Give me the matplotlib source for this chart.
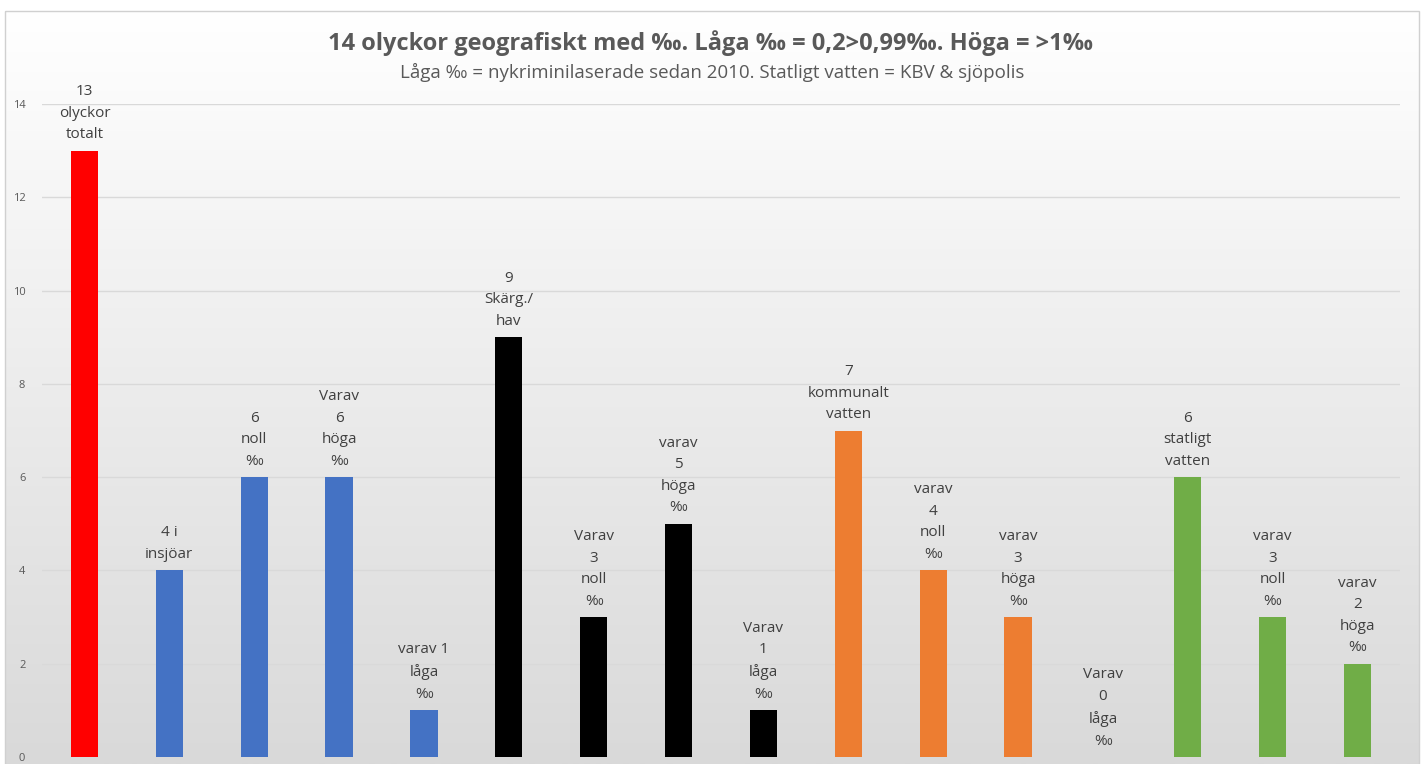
import numpy as np
import matplotlib.pyplot as plt
from matplotlib.patches import Rectangle

plt.rcParams['font.family'] = ['Open Sans', 'DejaVu Sans']

# antal olyckor per kategori
values = [13, 4, 6, 6, 1, 9, 3, 5, 1, 7, 4, 3, 0, 6, 3, 2]
labels = [
    "13\nolyckor\ntotalt",
    "4 i\ninsjöar",
    "6\nnoll\n‰",
    "Varav\n6\nhöga\n‰",
    "varav 1\nlåga\n‰",
    "9\nSkärg./\nhav",
    "Varav\n3\nnoll\n‰",
    "varav\n5\nhöga\n‰",
    "Varav\n1\nlåga\n‰",
    "7\nkommunalt\nvatten",
    "varav\n4\nnoll\n‰",
    "varav\n3\nhöga\n‰",
    "Varav\n0\nlåga\n‰",
    "6\nstatligt\nvatten",
    "varav\n3\nnoll\n‰",
    "varav\n2\nhöga\n‰",
]
colors = ["#FF0000"] + ["#4472C4"] * 4 + ["#000000"] * 4 + ["#ED7D31"] * 4 + ["#70AD47"] * 3
yticks = [0, 2, 4, 6, 8, 10, 12, 14]

title = "14 olyckor geografiskt med ‰. Låga ‰ = 0,2>0,99‰. Höga = >1‰"
subtitle = "Låga ‰ = nykriminilaserade sedan 2010. Statligt vatten = KBV & sjöpolis"

W, H = 1424, 764
fig = plt.figure(figsize=(W / 100, H / 100), dpi=100)

# bakgrund med gradient, vit upptill och grå nedtill
bg = fig.add_axes([0, 0, 1, 1], zorder=0)
grad = np.linspace(1.0, 0.0, 256).reshape(-1, 1)
top_c = np.array([1.0, 1.0, 1.0])
bot_c = np.array([217, 217, 217]) / 255
img = top_c * grad[..., None] + bot_c * (1 - grad[..., None])
bg.imshow(img, aspect='auto', extent=[5, 1419, H, 11], origin='upper')
bg.add_patch(Rectangle((5, 11), 1414, H, fill=False, edgecolor="#d0d0d0", lw=1))
bg.set_xlim(0, W)
bg.set_ylim(H, 0)
bg.axis('off')

ax = fig.add_axes([42 / W, 1 - 757 / H, (1400 - 42) / W, (757 - 104) / H], zorder=1)
ax.patch.set_alpha(0)

x = np.arange(len(values))
ax.bar(x, values, width=0.32, color=colors, zorder=3)

for xi, v, lab in zip(x, values, labels):
    ax.annotate(lab, (xi, v), xytext=(0, 6), textcoords='offset points',
                ha='center', va='bottom', fontsize=11, color="#404040",
                linespacing=1.6)

ax.set_xlim(-0.5, len(values) - 0.5)
ax.set_ylim(0, 14)
ax.set_yticks(yticks)
ax.yaxis.grid(True, color="#d9d9d9", lw=1, zorder=0)
ax.set_xticks([])
ax.tick_params(axis='y', length=0, labelsize=8, labelcolor="#595959", pad=12)
for s in ax.spines.values():
    s.set_visible(False)

fig.text(711 / W, 1 - 43 / H, title, ha='center', va='center',
         fontsize=17, fontweight='bold', color="#595959")
fig.text(712 / W, 1 - 72 / H, subtitle, ha='center', va='center',
         fontsize=13.5, color="#595959")

fig.savefig("out.png", dpi=100)
